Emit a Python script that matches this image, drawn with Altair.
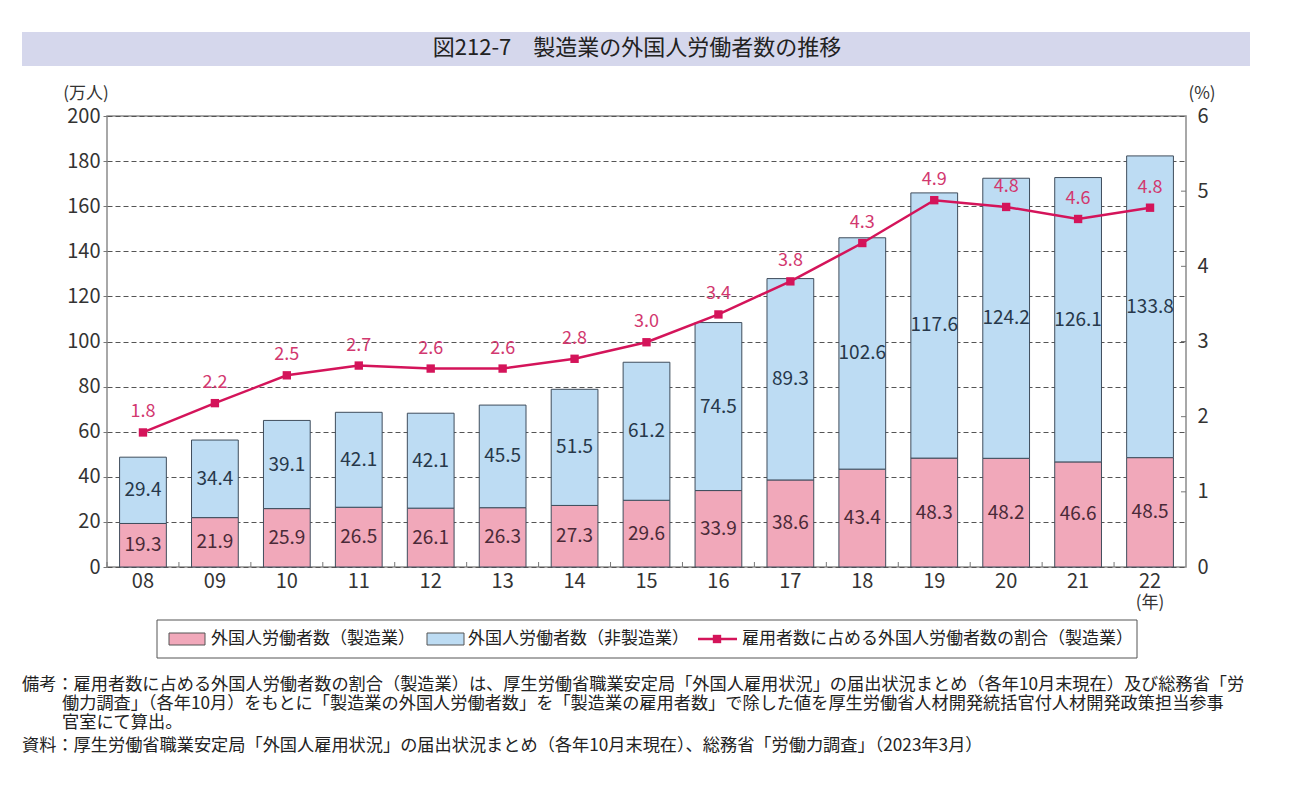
import altair as alt
import pandas as pd

# ---- data ----
years = ["08", "09", "10", "11", "12", "13", "14", "15", "16", "17", "18", "19", "20", "21", "22"]
mfg = [19.3, 21.9, 25.9, 26.5, 26.1, 26.3, 27.3, 29.6, 33.9, 38.6, 43.4, 48.3, 48.2, 46.6, 48.5]
non_mfg = [29.4, 34.4, 39.1, 42.1, 42.1, 45.5, 51.5, 61.2, 74.5, 89.3, 102.6, 117.6, 124.2, 126.1, 133.8]
ratio = [1.79, 2.18, 2.55, 2.68, 2.64, 2.64, 2.77, 2.99, 3.36, 3.80, 4.31, 4.88, 4.79, 4.63, 4.78]
ratio_labels = ["1.8", "2.2", "2.5", "2.7", "2.6", "2.6", "2.8", "3.0", "3.4", "3.8", "4.3", "4.9", "4.8", "4.6", "4.8"]
left_ticks = [0, 20, 40, 60, 80, 100, 120, 140, 160, 180, 200]
right_ticks = [0, 1, 2, 3, 4, 5, 6]
right_inner_ticks = [1, 2, 3, 4, 5]

title_text = "図212-7　製造業の外国人労働者数の推移"
legend_labels = ["外国人労働者数（製造業）", "外国人労働者数（非製造業）", "雇用者数に占める外国人労働者数の割合（製造業）"]
notes = [
    "備考：雇用者数に占める外国人労働者数の割合（製造業）は、厚生労働省職業安定局「外国人雇用状況」の届出状況まとめ（各年10月末現在）及び総務省「労",
    "働力調査」（各年10月）をもとに「製造業の外国人労働者数」を「製造業の雇用者数」で除した値を厚生労働省人材開発統括官付人材開発政策担当参事",
    "官室にて算出。",
    "資料：厚生労働省職業安定局「外国人雇用状況」の届出状況まとめ（各年10月末現在）、総務省「労働力調査」（2023年3月）",
]

# ---- layout ----
W, H = 1079, 451
OX, OY = 107, 116
FONT = "Noto Sans CJK JP"
PINK = "#f1a8ba"
BLUE = "#bddcf3"
LINE = "#d4145a"
LABEL_PINK = "#d2386f"
STEP = W / len(years)

df = pd.DataFrame({"year": years, "mfg": mfg, "non": non_mfg, "ratio": ratio, "rlabel": ratio_labels})
df["total"] = df["mfg"] + df["non"]
df["mfg_mid"] = df["mfg"] / 2
df["non_mid"] = df["mfg"] + df["non"] / 2
df["mfg_txt"] = [f"{v:.1f}" for v in mfg]
df["non_txt"] = [f"{v:.1f}" for v in non_mfg]

one = pd.DataFrame({"a": [0]})


def xenc():
    return alt.X(
        "year:N", sort=years,
        scale=alt.Scale(paddingInner=0.35, paddingOuter=0.175),
        axis=alt.Axis(title=None, labelAngle=0, ticks=False, domain=False, grid=False,
                      labelFontSize=20, labelPadding=4, labelColor="#333", labelFont=FONT),
    )


def yleft(field):
    return alt.Y(
        field, scale=alt.Scale(domain=[0, 200], nice=False),
        axis=alt.Axis(title=None, values=left_ticks, grid=True, gridDash=[5, 3], gridColor="#555",
                      gridWidth=1, tickSize=4, tickColor="#777", domain=False,
                      labelFontSize=20, labelPadding=3, labelColor="#333", labelFont=FONT),
    )


def yright(field):
    return alt.Y(
        field, scale=alt.Scale(domain=[0, 6], nice=False),
        axis=alt.Axis(title=None, orient="right", values=right_ticks, grid=False, ticks=False,
                      domain=False, labelFontSize=20, labelPadding=11, labelColor="#333", labelFont=FONT),
    )


base = alt.Chart(df)

pink_bars = base.mark_bar(color=PINK, stroke="#3f4d5c", strokeWidth=1).encode(x=xenc(), y=yleft("mfg:Q"))
blue_bars = base.mark_bar(color=BLUE, stroke="#3f4d5c", strokeWidth=1).encode(
    x=xenc(), y=yleft("total:Q"), y2="mfg:Q")
pink_txt = base.mark_text(fontSize=19, color="#4a2a38", font=FONT, baseline="middle").encode(
    x=xenc(), y=yleft("mfg_mid:Q"), text="mfg_txt:N")
blue_txt = base.mark_text(fontSize=19, color="#27384a", font=FONT, baseline="middle").encode(
    x=xenc(), y=yleft("non_mid:Q"), text="non_txt:N")
x_ticks = base.mark_rule(color="#777", xOffset=-STEP / 2).encode(
    x=xenc(), y=alt.value(H - 5), y2=alt.value(H))

left = alt.layer(pink_bars, blue_bars, pink_txt, blue_txt, x_ticks)

line = base.mark_line(color=LINE, strokeWidth=2.5).encode(x=xenc(), y=yright("ratio:Q"))
pts = base.mark_point(shape="square", filled=True, color=LINE, size=70, opacity=1).encode(
    x=xenc(), y=yright("ratio:Q"))
rtxt = base.mark_text(fontSize=18, color=LABEL_PINK, font=FONT, dy=-20).encode(
    x=xenc(), y=yright("ratio:Q"), text="rlabel:N")
r_ticks = alt.Chart(pd.DataFrame({"v": right_inner_ticks})).mark_rule(color="#777").encode(
    y=yright("v:Q"), x=alt.value(W - 5), x2=alt.value(W))

right = alt.layer(line, pts, rtxt, r_ticks)


def txt(s, x, y, size, align="left", color="#222"):
    return alt.Chart(one).mark_text(text=s, align=align, baseline="middle", fontSize=size,
                                    color=color, font=FONT).encode(
        x=alt.value(x - OX), y=alt.value(y - OY))


def rect(x1, x2, y1, y2, fill, stroke=None, sw=1):
    kw = dict(fill=fill, strokeWidth=sw)
    if stroke:
        kw["stroke"] = stroke
    return alt.Chart(one).mark_rect(**kw).encode(
        x=alt.value(x1 - OX), x2=alt.value(x2 - OX), y=alt.value(y1 - OY), y2=alt.value(y2 - OY))


deco = [
    rect(22, 1250, 32, 66, "#d5d7ec"),
    txt(title_text, 637, 48, 22, align="center", color="#222"),
    txt("(万人)", 86, 94, 17, align="center", color="#333"),
    txt("(%)", 1202, 94, 17, align="center", color="#333"),
    txt("(年)", 1150, 603, 17, align="center", color="#333"),
    # legend
    rect(157, 1137, 620, 658, "white", "#555", 1),
    rect(169, 205, 633, 645, PINK, "#555", 1),
    txt(legend_labels[0], 211, 639, 17),
    rect(427, 464, 633, 645, BLUE, "#555", 1),
    txt(legend_labels[1], 468, 639, 17),
    alt.Chart(one).mark_rule(color=LINE, strokeWidth=2.5).encode(
        x=alt.value(698 - OX), x2=alt.value(737 - OX), y=alt.value(639 - OY)),
    alt.Chart(one).mark_point(shape="square", filled=True, color=LINE, size=70, opacity=1).encode(
        x=alt.value(717 - OX), y=alt.value(639 - OY)),
    txt(legend_labels[2], 742, 639, 17),
    # notes
    txt(notes[0], 22, 685, 17.2),
    txt(notes[1], 62, 704, 17.2),
    txt(notes[2], 62, 723, 17.2),
    txt(notes[3], 22, 746, 17.2),
]

chart = alt.layer(left, right, *deco).resolve_scale(y="independent").properties(
    width=W, height=H,
    padding={"left": OX, "top": OY, "right": 1294 - OX - W, "bottom": 796 - OY - H},
    autosize=alt.AutoSizeParams(type="none"),
    background="white",
).configure_view(stroke="#8c8c8c", strokeWidth=1.5).configure_text(font=FONT)

chart.save("out.html", embed_options={"renderer": "svg", "actions": False})
